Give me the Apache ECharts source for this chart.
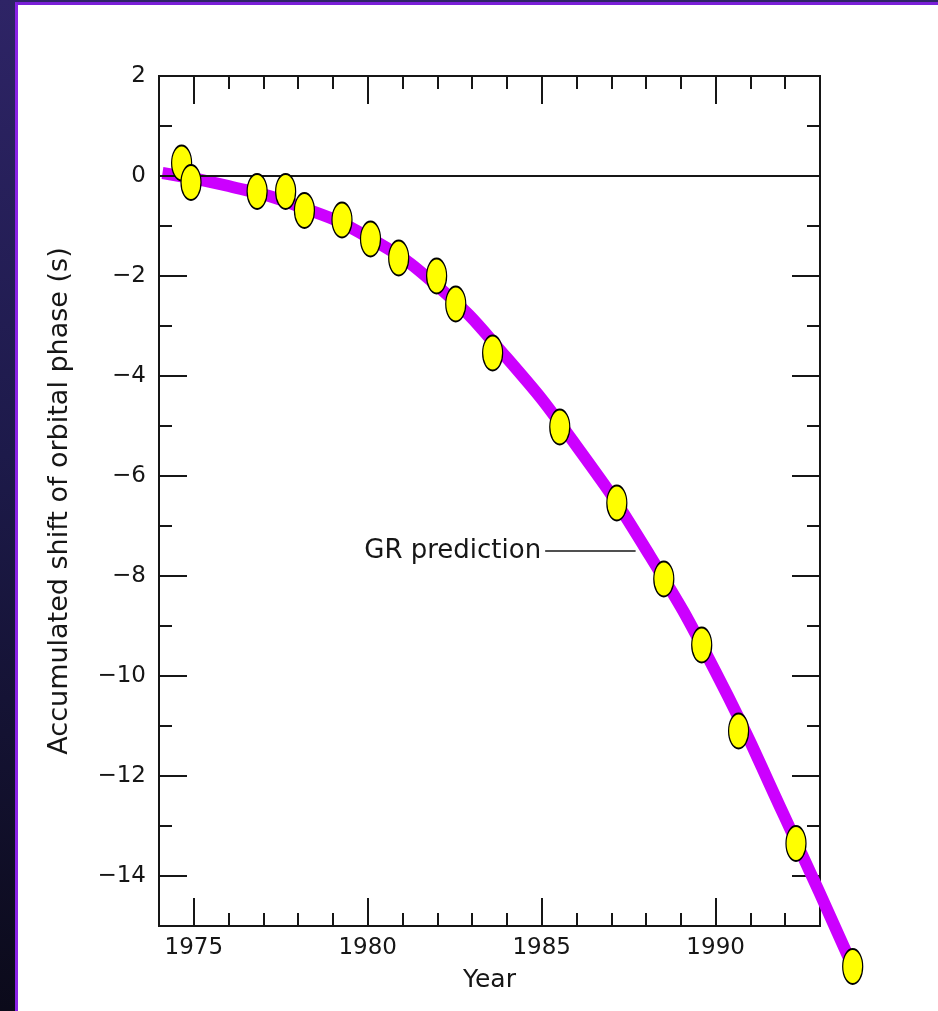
<!DOCTYPE html>
<html>
<head>
<meta charset="utf-8">
<script src="https://cdn.jsdelivr.net/npm/echarts@6/dist/echarts.min.js"></script>
<style>
  html, body { margin: 0; padding: 0; width: 938px; height: 1011px; overflow: hidden; }
  body { background: linear-gradient(180deg, #2e2466 0%, #1d1a4a 45%, #0b0a1a 100%); position: relative; }
  #panel { position: absolute; left: 15px; top: 2px; width: 923px; height: 1009px; background: #fff;
           border-left: 3px solid #8a22e6; border-top: 3px solid #7a1fd8; box-sizing: border-box; }
  #chart { position: absolute; left: 0; top: 0; width: 938px; height: 1011px; }
</style>
</head>
<body>
<div id="panel"></div>
<div id="chart"></div>
<script>
// Observed timing data points (year, accumulated shift in s)
const obsYears  = [1974.65, 1974.92, 1976.82, 1977.64, 1978.18, 1979.26, 1980.08, 1980.89, 1981.98, 1982.53, 1983.59, 1985.52, 1987.16, 1988.51, 1989.60, 1990.66, 1992.31, 1993.94];
const obsShift  = [0.26, -0.13, -0.31, -0.31, -0.69, -0.88, -1.26, -1.64, -2.00, -2.56, -3.54, -5.02, -6.54, -8.06, -9.38, -11.10, -13.35, -15.81];

// GR prediction curve
const grYears   = [1974.1, 1976, 1978, 1980, 1982, 1984, 1986, 1988, 1990, 1992, 1993.94];
const grShift   = [0.06, -0.20, -0.60, -1.22, -2.20, -3.64, -5.40, -7.47, -9.92, -12.84, -15.81];

// Axis ticks and labels
const xLabelYears  = [1975, 1980, 1985, 1990];
const xMinorYears  = [1975, 1976, 1977, 1978, 1979, 1980, 1981, 1982, 1983, 1984, 1985, 1986, 1987, 1988, 1989, 1990, 1991, 1992];
const yLabelValues = [2, 0, -2, -4, -6, -8, -10, -12, -14];
const yMinorValues = [1, 0, -1, -2, -3, -4, -5, -6, -7, -8, -9, -10, -11, -12, -13, -14];

const annotationText = 'GR prediction';
const annotationY = -7.5;
const annotationFrom = 1985.1, annotationTo = 1987.7;

const chart = echarts.init(document.getElementById('chart'), null, { renderer: 'canvas' });

const ink = '#161616';
const wordFont = 'DejaVu Sans, sans-serif';
const numFont = { fontFamily: wordFont, fontSize: 23, color: ink };

// Frame (axes box) ranges
const X_MIN = 1974, X_MAX = 1993, Y_MIN = -15, Y_MAX = 2;
// Frame placement in pixels
const G_LEFT = 159, G_TOP = 76, G_W = 661, G_H = 850;
// Wider data grid with the same scale so marks can run past the frame
const DX_MAX = 1995, DY_MIN = -16.6;
const dW = G_W * (DX_MAX - X_MIN) / (X_MAX - X_MIN);
const dH = G_H * (Y_MAX - DY_MIN) / (Y_MAX - Y_MIN);

function xAxisDef(pos, values, len, showLabel, extra) {
  return Object.assign({
    type: 'value', gridIndex: 0, position: pos, min: X_MIN, max: X_MAX, interval: 1,
    axisLine: { show: true, onZero: false, lineStyle: { color: ink, width: 2 } },
    axisTick: { show: true, inside: true, length: len, customValues: values, lineStyle: { color: ink, width: 2 } },
    axisLabel: { show: showLabel, customValues: xLabelYears, margin: 11, formatter: v => String(v), ...numFont },
    splitLine: { show: false }
  }, extra || {});
}
function yAxisDef(pos, values, len, showLabel, extra) {
  return Object.assign({
    type: 'value', gridIndex: 0, position: pos, min: Y_MIN, max: Y_MAX, interval: 1,
    axisLine: { show: true, onZero: false, lineStyle: { color: ink, width: 2 } },
    axisTick: { show: true, inside: true, length: len, customValues: values, lineStyle: { color: ink, width: 2 } },
    axisLabel: { show: showLabel, customValues: yLabelValues, margin: 13,
                 formatter: v => (v < 0 ? '\u2212' + Math.abs(v) : String(v)), ...numFont },
    splitLine: { show: false }
  }, extra || {});
}

const ellipse = 'path://M0,50 A25,50 0 1,1 50,50 A25,50 0 1,1 0,50 Z';

chart.setOption({
  animation: false,
  grid: [
    { left: G_LEFT, top: G_TOP, width: G_W, height: G_H, containLabel: false },
    { left: G_LEFT, top: G_TOP, width: dW, height: dH, containLabel: false }
  ],
  xAxis: [
    xAxisDef('bottom', xLabelYears, 28, true, {
      name: 'Year', nameLocation: 'middle', nameGap: 42,
      nameTextStyle: { fontFamily: wordFont, fontSize: 25, color: ink }
    }),
    xAxisDef('bottom', xMinorYears, 13, false),
    xAxisDef('top', xLabelYears, 28, false),
    xAxisDef('top', xMinorYears, 13, false),
    { type: 'value', gridIndex: 1, min: X_MIN, max: DX_MAX, show: false }
  ],
  yAxis: [
    yAxisDef('left', yLabelValues, 28, true, {
      name: 'Accumulated shift of orbital phase (s)', nameLocation: 'middle', nameGap: 86, nameRotate: 90,
      nameTextStyle: { fontFamily: wordFont, fontSize: 27, color: ink }
    }),
    yAxisDef('left', yMinorValues, 13, false),
    yAxisDef('right', yLabelValues, 28, false),
    yAxisDef('right', yMinorValues, 13, false),
    { type: 'value', gridIndex: 1, min: DY_MIN, max: Y_MAX, show: false }
  ],
  series: [
    {
      name: 'zero', type: 'line', xAxisIndex: 0, yAxisIndex: 0, data: [], silent: true,
      markLine: {
        silent: true, symbol: 'none', animation: false,
        lineStyle: { color: ink, width: 2, type: 'solid' },
        label: { show: false },
        data: [
          [{ coord: [X_MIN, 0] }, { coord: [X_MAX, 0] }]
        ]
      }
    },
    {
      name: 'annotation', type: 'line', xAxisIndex: 0, yAxisIndex: 0, data: [], silent: true,
      markLine: {
        silent: true, symbol: 'none', animation: false,
        lineStyle: { color: ink, width: 1.6, type: 'solid' },
        label: { show: true, position: 'start', distance: 4, formatter: annotationText,
                 fontFamily: wordFont, fontSize: 26, color: ink },
        data: [
          [{ coord: [annotationFrom, annotationY] }, { coord: [annotationTo, annotationY] }]
        ]
      }
    },
    {
      name: 'GR prediction', type: 'line', xAxisIndex: 4, yAxisIndex: 4,
      smooth: 0.5, showSymbol: false, symbol: 'none', z: 3,
      lineStyle: { color: '#cc00ff', width: 12, cap: 'butt' },
      data: grYears.map((x, i) => [x, grShift[i]])
    },
    {
      name: 'Observed', type: 'scatter', xAxisIndex: 4, yAxisIndex: 4, z: 5,
      symbol: ellipse, symbolSize: [20, 35],
      itemStyle: { color: '#ffff00', borderColor: '#000', borderWidth: 1.6, opacity: 1 },
      data: obsYears.map((x, i) => [x, obsShift[i]])
    }
  ]
});
</script>
</body>
</html>
